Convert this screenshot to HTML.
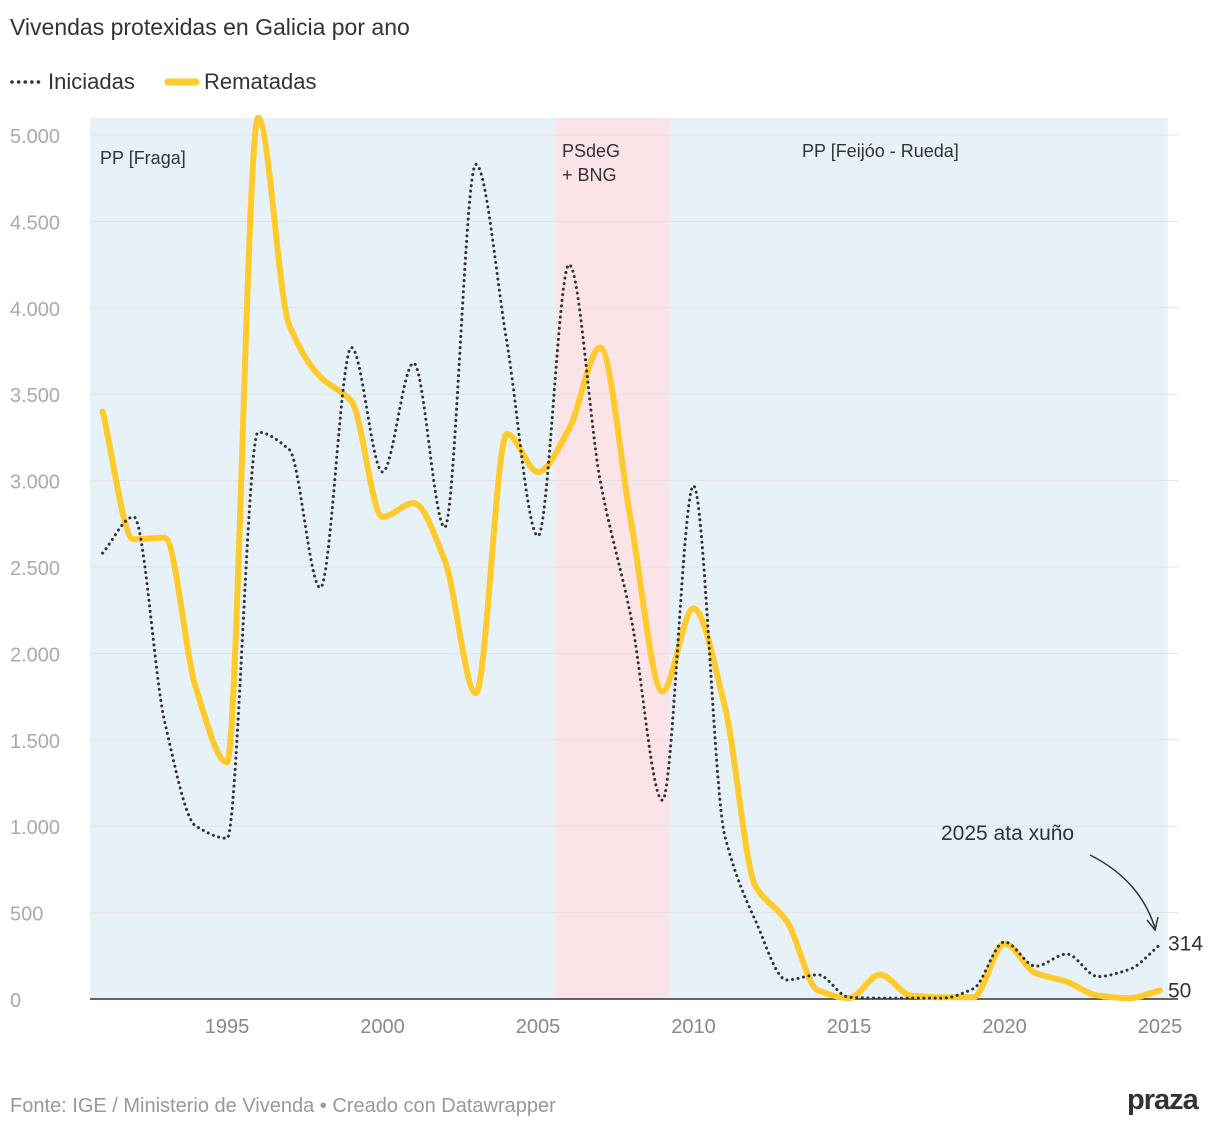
<!DOCTYPE html>
<html><head><meta charset="utf-8"><style>
body{margin:0;background:#fff;font-family:"Liberation Sans",sans-serif}
svg text{font-family:"Liberation Sans",sans-serif}
</style></head><body>
<svg id="chart" width="1220" height="1130" viewBox="0 0 1220 1130" xmlns="http://www.w3.org/2000/svg">
<text x="10" y="35" font-size="23" fill="#333">Vivendas protexidas en Galicia por ano</text>
<g>
<line x1="12" y1="82" x2="42" y2="82" stroke="#333" stroke-width="3.5" stroke-dasharray="0.1,6.5" stroke-linecap="round"/>
<text x="48" y="89" font-size="22" fill="#333">Iniciadas</text>
<line x1="168" y1="82" x2="196" y2="82" stroke="#ffca2b" stroke-width="7" stroke-linecap="round"/>
<text x="204" y="89" font-size="22" fill="#333">Rematadas</text>
</g>
<g id="bg"></g><g id="grid"></g><g id="lines"></g><g id="labels"></g>
<text x="941" y="840" font-size="21" fill="#333">2025 ata xuño</text>
<path d="M1090,855 Q1140,880 1155,928" fill="none" stroke="#333" stroke-width="1.5"/>
<path d="M1147,920 L1155,930 L1158,917" fill="none" stroke="#333" stroke-width="1.5"/>
<text x="10" y="1112" font-size="20" fill="#999">Fonte: IGE / Ministerio de Vivenda • Creado con Datawrapper</text>
<text x="1127" y="1109" font-size="29" font-weight="bold" fill="#333" letter-spacing="-1">praza</text>
</svg>
<script>
const years=[1991,1992,1993,1994,1995,1996,1997,1998,1999,2000,2001,2002,2003,2004,2005,2006,2007,2008,2009,2010,2011,2012,2013,2014,2015,2016,2017,2018,2019,2020,2021,2022,2023,2024,2025];
const iniciadas=[2580,2790,1600,1000,930,3280,3180,2380,3770,3050,3680,2730,4830,3800,2680,4250,3000,2200,1150,2970,950,450,110,140,10,5,5,5,60,330,190,260,130,170,314];
const rematadas=[3400,2660,2670,1800,1370,5100,3900,3600,3460,2790,2870,2540,1770,3270,3050,3300,3770,2750,1780,2260,1700,650,450,50,5,140,20,10,10,320,150,100,20,5,50];
const yTicks=[0,500,1000,1500,2000,2500,3000,3500,4000,4500,5000];
const yTickLabels=["0","500","1.000","1.500","2.000","2.500","3.000","3.500","4.000","4.500","5.000"];
const xTicks=[1995,2000,2005,2010,2015,2020,2025];
const periods=[{s:1990.6,e:2005.55,c:"#e7f1f8",n:"PP [Fraga]"},{s:2005.55,e:2009.25,c:"#fbe4e8",n:"PSdeG|+ BNG"},{s:2009.25,e:2025.25,c:"#e7f1f8",n:"PP [Feijóo - Rueda]"}];
const X=y=>227+(y-1995)*31.1, Y=v=>999-v*0.1728;
const NS="http://www.w3.org/2000/svg";
function mk(t,a,p,txt){const e=document.createElementNS(NS,t);for(const k in a)e.setAttribute(k,a[k]);if(txt!=null)e.textContent=txt;document.getElementById(p).appendChild(e);return e;}
periods.forEach((p,i)=>{
 const r=mk("rect",{x:X(p.s),y:118,width:X(p.e)-X(p.s),height:999-118,fill:p.c},"bg");
 
 
 const parts=p.n.split("|");
 parts.forEach((t,j)=>{const tx=mk("text",{x:i==2?802:(i==0?100:562),y:(i==0?164:157)+j*24,"font-size":18,fill:"#333"},"labels",t);
 
 });
});
yTicks.forEach((v,i)=>{
 const l=mk("line",{x1:90,x2:1178,y1:Y(v),y2:Y(v),stroke:v==0?"#333":"#e2e2e2","stroke-width":v==0?1.5:1},"grid");
 
 
 const t=mk("text",{x:10,y:Y(v)+8,"font-size":20,fill:"#aaa"},"grid",yTickLabels[i]);
 
 
});
xTicks.forEach(v=>{
 const t=mk("text",{x:X(v),y:1033,"font-size":20,fill:"#888","text-anchor":"middle"},"grid",String(v));
 
 
});
function monotone(xs,ys){
 const n=xs.length,d=[],m=[];
 for(let i=0;i<n-1;i++)d.push((ys[i+1]-ys[i])/(xs[i+1]-xs[i]));
 for(let i=0;i<n;i++){
  if(i==0)m.push(d[0]);else if(i==n-1)m.push(d[n-2]);
  else m.push(d[i-1]*d[i]<=0?0:(3*(d[i-1]+d[i]))/( (2*d[i]+d[i-1])/d[i-1]*1 + (d[i]+2*d[i-1])/d[i] ) );
 }
 let s=`M${xs[0]},${ys[0]}`;
 for(let i=0;i<n-1;i++){const h=(xs[i+1]-xs[i])/3;
  s+=`C${xs[i]+h},${ys[i]+m[i]*h} ${xs[i+1]-h},${ys[i+1]-m[i+1]*h} ${xs[i+1]},${ys[i+1]}`;}
 return s;
}
const xs=years.map(X);
const p1=mk("path",{d:monotone(xs,rematadas.map(Y)),fill:"none",stroke:"#ffca2b","stroke-width":6,"stroke-linejoin":"round","stroke-linecap":"round"},"lines");


const p2=mk("path",{d:monotone(xs,iniciadas.map(Y)),fill:"none",stroke:"#333","stroke-width":3,"stroke-dasharray":"0.1,5.5","stroke-linecap":"round"},"lines");


const l1=mk("text",{x:1168,y:Y(iniciadas[iniciadas.length-1])+6,"font-size":21,fill:"#333"},"labels",String(iniciadas[iniciadas.length-1]));


const l2=mk="";
const t2=document.createElementNS(NS,"text");
t2.setAttribute("x",1168);t2.setAttribute("y",Y(rematadas[rematadas.length-1])+7);t2.setAttribute("font-size",21);t2.setAttribute("fill","#333");
t2.textContent=String(rematadas[rematadas.length-1]);


document.getElementById("labels").appendChild(t2);
</script>
</body></html>
